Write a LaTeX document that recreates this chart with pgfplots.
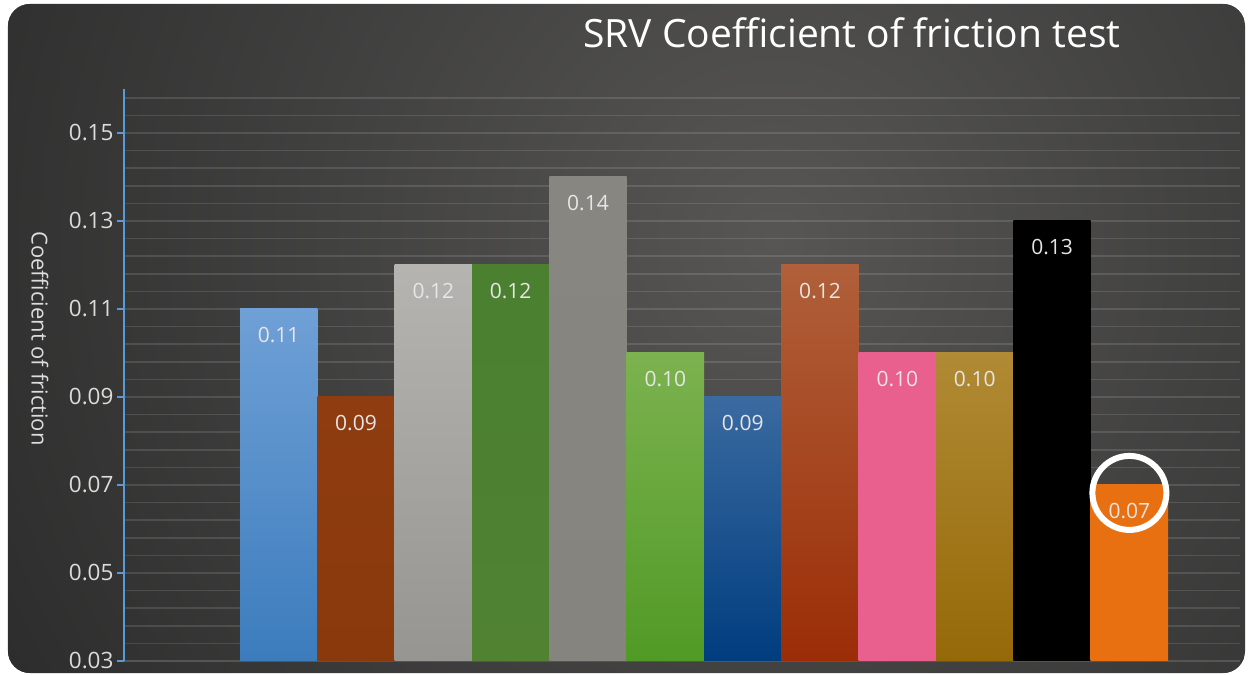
\documentclass[border=0pt]{standalone}
\usepackage{pgfplots}
\pgfplotsset{compat=1.18}
\usepackage{fontspec}
\setmainfont{Open Sans}
\definecolor{bgin}{HTML}{575655}
\definecolor{bgout}{HTML}{272727}
\definecolor{axisblue}{HTML}{5B9BD5}
\definecolor{xline}{HTML}{555555}
\definecolor{ticktext}{HTML}{DCDCDC}
\definecolor{labtext}{HTML}{E6E6E6}
\definecolor{c1t}{RGB}{111,160,214}\definecolor{c1b}{RGB}{60,124,189}
\definecolor{c2t}{RGB}{142,60,16}\definecolor{c2b}{RGB}{138,57,13}
\definecolor{c3t}{RGB}{181,180,176}\definecolor{c3b}{RGB}{150,149,145}
\definecolor{c4t}{RGB}{74,128,48}\definecolor{c4b}{RGB}{80,130,50}
\definecolor{c5t}{RGB}{135,134,129}\definecolor{c5b}{RGB}{133,132,127}
\definecolor{c6t}{RGB}{124,178,79}\definecolor{c6b}{RGB}{81,154,38}
\definecolor{c7t}{RGB}{58,106,160}\definecolor{c7b}{RGB}{0,61,127}
\definecolor{c8t}{RGB}{176,96,58}\definecolor{c8b}{RGB}{155,45,7}
\definecolor{c9t}{RGB}{233,95,142}\definecolor{c9b}{RGB}{233,95,142}
\definecolor{c10t}{RGB}{176,138,52}\definecolor{c10b}{RGB}{149,105,8}
\definecolor{c11t}{RGB}{0,0,0}\definecolor{c11b}{RGB}{0,0,0}
\definecolor{c12t}{RGB}{232,112,16}\definecolor{c12b}{RGB}{232,112,16}
\pgfplotsset{
  mybar/.style n args={2}{ybar, bar width=1, bar shift=0pt, draw=none, top color=#1, bottom color=#2},
}
\begin{document}
\begin{tikzpicture}
\useasboundingbox (-124pt,-13pt) rectangle (1125pt,661pt);
\fill[white] (-124pt,-13pt) rectangle (1125pt,661pt);
\begin{scope}
\clip[rounded corners=22pt] (-116pt,-12pt) rectangle (1121pt,657pt);
\fill[bgout] (-116pt,-12pt) rectangle (1121pt,657pt);
\shade[inner color=bgin, outer color=bgout] (-350pt,-580pt) rectangle (1650pt,1420pt);
\end{scope}
\begin{axis}[
  at={(0pt,0pt)}, anchor=south west,
  scale only axis, width=1116pt, height=572pt,
  xmin=-2, xmax=12.43, ymin=0.03, ymax=0.16,
  axis y line*=left, axis x line*=bottom,
  xtick=\empty,
  ytick={0.03,0.05,0.07,0.09,0.11,0.13,0.15},
  minor ytick={0.034,0.038,0.042,0.046,0.054,0.058,0.062,0.066,0.074,0.078,0.082,0.086,0.094,0.098,0.102,0.106,0.114,0.118,0.122,0.126,0.134,0.138,0.142,0.146,0.154,0.158},
  ymajorgrids, yminorgrids,
  major grid style={draw=white, opacity=0.12, line width=1.6pt},
  minor grid style={draw=white, opacity=0.12, line width=1.6pt},
  tick align=outside, major tick length=7pt, minor tick length=0pt,
  y axis line style={draw=axisblue, line width=2pt},
  x axis line style={draw=xline, line width=2pt},
  ytick style={draw=axisblue, line width=2pt},
  yticklabel style={font=\fontsize{22.5}{26}\selectfont, text=ticktext,
     /pgf/number format/.cd, fixed, fixed zerofill, precision=2, assume math mode=true},
  ylabel={Coefficient of friction},
  every axis y label/.style={at={(axis description cs:-0.0753,0.564)}, rotate=-90, anchor=center,
     font=\fontsize{22}{26}\selectfont, text=ticktext},
  nodes near coords,
  every node near coord/.append style={anchor=center, yshift=-26pt, font=\fontsize{21}{25}\selectfont, text=labtext,
     /pgf/number format/.cd, fixed, fixed zerofill, precision=2, assume math mode=true},
]
\addplot[mybar={c1t}{c1b}] coordinates {(0,0.11)};
\addplot[mybar={c2t}{c2b}] coordinates {(1,0.09)};
\addplot[mybar={c3t}{c3b}] coordinates {(2,0.12)};
\addplot[mybar={c4t}{c4b}] coordinates {(3,0.12)};
\addplot[mybar={c5t}{c5b}] coordinates {(4,0.14)};
\addplot[mybar={c6t}{c6b}] coordinates {(5,0.10)};
\addplot[mybar={c7t}{c7b}] coordinates {(6,0.09)};
\addplot[mybar={c8t}{c8b}] coordinates {(7,0.12)};
\addplot[mybar={c9t}{c9b}] coordinates {(8,0.10)};
\addplot[mybar={c10t}{c10b}] coordinates {(9,0.10)};
\addplot[mybar={c11t}{c11b}] coordinates {(10,0.13)};
\addplot[mybar={c12t}{c12b}] coordinates {(11,0.07)};
\draw[white, line width=6pt] (axis cs:11,0.0682) circle[radius=37pt];
\end{axis}
\node[text=white, font=\fontsize{39}{44}\selectfont] at (728pt,628pt) {SRV Coefficient of friction test};
\end{tikzpicture}
\end{document}
